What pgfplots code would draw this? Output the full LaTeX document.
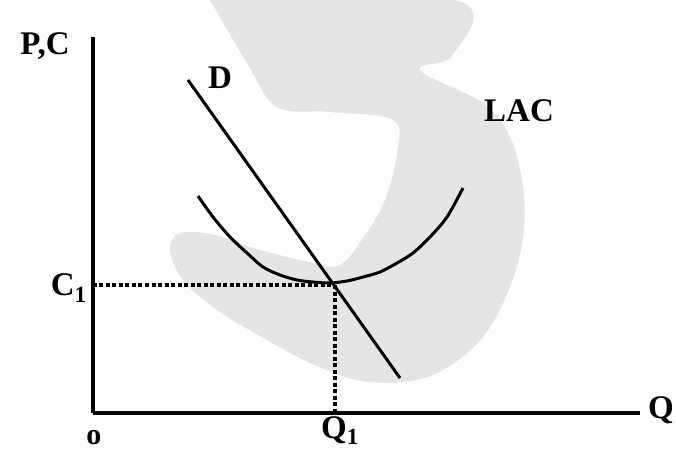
\documentclass[border=0pt]{standalone}
\usepackage{fontspec}
\setmainfont{Liberation Serif}
\usepackage{pgfplots}
\pgfplotsset{compat=1.18}

\tikzset{lbl/.style={font=\fontsize{33}{36}\selectfont\bfseries, inner sep=0pt}}

\begin{document}
\begin{tikzpicture}
\begin{axis}[
  anchor=origin, at={(0pt,0pt)},
  x=1pt, y=1pt,
  xmin=0, xmax=547, ymin=0, ymax=376,
  axis lines=left,
  axis line style={-, line width=3.2pt, black},
  xtick=\empty, ytick=\empty,
  clip=false,
]
% background emblem
\addplot[fill=black!10, draw=none, smooth, tension=0.6] coordinates {
  (117,413) (362,413) (360,358) (327,343) (390,310) (417,276) (430,226)
  (430,176) (417,126) (390,76) (350,43) (310,31) (264,33) (217,50)
  (174,73) (124,103) (90,133) (77,163) (87,180) (122,178) (167,163)
  (217,151) (247,148) (272,178) (292,213) (304,260) (300,293) (237,301)
  (184,306) (154,350) (117,413)
};

% long-run average cost
\addplot[line width=3pt, smooth] coordinates {
  (105,217) (120,196) (137,176) (154,160) (170,146) (187,138) (204,133)
  (220,131) (237,130) (254,132) (270,136) (287,141) (304,150) (320,160)
  (337,176) (354,196) (370,225)
};

% demand
\addplot[line width=3pt] coordinates {(95,333) (307,35)};

% guide lines to C1 and Q1
\addplot[line width=3.2pt, dash pattern=on 4pt off 2.5pt] coordinates {(0,128) (240,128)};
\addplot[line width=3.2pt, dash pattern=on 4pt off 2.5pt] coordinates {(242,128) (242,0)};

% labels
\node[lbl] at (axis cs:-48,367) {P,C};
\node[lbl] at (axis cs:127,335) {D};
\node[lbl] at (axis cs:426,302) {LAC};
\node[lbl] at (axis cs:568,3) {Q};
\node[lbl, anchor=east] at (axis cs:-6,125) {C\textsubscript{1}};
\node[lbl, anchor=north] at (axis cs:247,-3) {Q\textsubscript{1}};
\node[font=\fontsize{30}{32}\selectfont\bfseries, inner sep=0pt] at (axis cs:1,-25) {o};
\end{axis}
\pgfresetboundingbox
\useasboundingbox (-93pt,-37pt) rectangle (583pt,413pt);
\end{tikzpicture}
\end{document}
